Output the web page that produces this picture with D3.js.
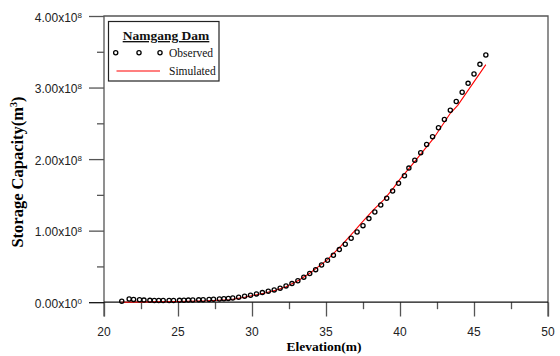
<!DOCTYPE html>
<html>
<head>
<meta charset="utf-8">
<script src="https://cdn.jsdelivr.net/npm/d3@7"></script>
<style>
  body { margin: 0; background: #fff; }
  svg { display: block; }
</style>
</head>
<body>
<svg id="chart" width="560" height="356"></svg>
<script>
// storage capacity in units of 1e8 m3
const elevObs = [21.2, 21.7, 22.0, 22.4, 22.7, 23.1, 23.4, 23.7, 24.0, 24.4, 24.7, 25.1, 25.4, 25.7,
  26.0, 26.4, 26.7, 27.1, 27.4, 27.8, 28.1, 28.4, 28.7, 29.1, 29.5, 29.9, 30.3, 30.7, 31.1, 31.5,
  31.9, 32.3, 32.7, 33.1, 33.5, 33.9, 34.3, 34.7, 35.1, 35.5, 35.9, 36.3, 36.7, 37.1, 37.5, 37.9,
  38.3, 38.7, 39.1, 39.5, 39.9, 40.3, 40.6, 41.0, 41.4, 41.8, 42.2, 42.6, 43.0, 43.4, 43.8, 44.2,
  44.6, 45.0, 45.4, 45.8];
const capObs = [0.0, 0.03, 0.025, 0.02, 0.015, 0.012, 0.01, 0.01, 0.01, 0.01, 0.01, 0.012, 0.013, 0.015,
  0.017, 0.019, 0.021, 0.024, 0.027, 0.031, 0.035, 0.039, 0.044, 0.056, 0.07, 0.084, 0.102, 0.12, 0.14, 0.158,
  0.182, 0.214, 0.246, 0.285, 0.336, 0.386, 0.441, 0.505, 0.573, 0.642, 0.721, 0.796, 0.88, 0.968, 1.056, 1.154,
  1.247, 1.345, 1.439, 1.54, 1.648, 1.754, 1.86, 1.97, 2.075, 2.19, 2.30, 2.425, 2.54, 2.668, 2.79, 2.92,
  3.045, 3.175, 3.31, 3.44];

const elevSim = [21.2, 23.0, 25.0, 27.0, 28.5, 29.5, 30.8, 31.6, 32.3, 33.1, 33.9, 34.6, 35.1, 36.0,
  36.9, 37.4, 38.2, 38.9, 39.5, 40.0, 40.7, 41.4, 42.25, 43.4, 43.9, 45.8];
const capSim = [0.0, 0.004, 0.01, 0.02, 0.035, 0.07, 0.126, 0.168, 0.215, 0.3, 0.405, 0.515, 0.595, 0.785,
  0.99, 1.11, 1.29, 1.43, 1.58, 1.72, 1.89, 2.07, 2.285, 2.64, 2.75, 3.32];

const xTicks = [20, 25, 30, 35, 40, 45, 50];
const xMinor = [22.5, 27.5, 32.5, 37.5, 42.5, 47.5];
const yTicks = [0, 1, 2, 3, 4];
const yMinor = [0.5, 1.5, 2.5, 3.5];
const yTickText = ["0.00x10", "1.00x10", "2.00x10", "3.00x10", "4.00x10"];
const yTickExp = ["0", "8", "8", "8", "8"];

const svg = d3.select("#chart");
const plotL = 104, plotR = 548, plotT = 16, plotB = 316.5;

const x = d3.scaleLinear().domain([20, 50]).range([plotL, plotR]);
const y = d3.scaleLinear().domain([-0.2, 4]).range([plotB, plotT]);
const y0 = y(0);

const axisColor = "#555";

// frame: left, right, top
svg.append("path")
  .attr("d", `M${plotL},${plotB}V${plotT}H${plotR}V${plotB}`)
  .attr("fill", "none").attr("stroke", axisColor).attr("stroke-width", 1.3);

// x axis at zero
const gx = svg.append("g").attr("transform", `translate(0,${y0})`)
  .call(d3.axisBottom(x).tickValues(xTicks).tickSize(plotB - y0).tickFormat(""));
gx.select(".domain").remove();
gx.selectAll("line").attr("stroke", axisColor).attr("stroke-width", 1.3);

const gxm = svg.append("g").attr("transform", `translate(0,${y0})`)
  .call(d3.axisBottom(x).tickValues(xMinor).tickSize(7).tickFormat(""));
gxm.select(".domain").remove();
gxm.selectAll("line").attr("stroke", axisColor).attr("stroke-width", 1.3);

svg.append("line")
  .attr("x1", plotL).attr("x2", plotR).attr("y1", y0).attr("y2", y0)
  .attr("stroke", "#111").attr("stroke-width", 1.3);

svg.append("g").selectAll("text").data(xTicks).join("text")
  .attr("x", d => x(d)).attr("y", 335.5)
  .attr("text-anchor", "middle")
  .attr("font-family", "Liberation Sans, Arial, sans-serif").attr("font-size", 12)
  .attr("fill", "#222")
  .text(d => d);

// y axis
const gy = svg.append("g").attr("transform", `translate(${plotL},0)`)
  .call(d3.axisLeft(y).tickValues(yTicks).tickSize(15).tickFormat(""));
gy.select(".domain").remove();
gy.selectAll("line").attr("stroke", d => d === 0 ? "#111" : axisColor).attr("stroke-width", 1.3);

const gym = svg.append("g").attr("transform", `translate(${plotL},0)`)
  .call(d3.axisLeft(y).tickValues(yMinor).tickSize(7).tickFormat(""));
gym.select(".domain").remove();
gym.selectAll("line").attr("stroke", axisColor).attr("stroke-width", 1.3);

const yl = svg.append("g").selectAll("text").data(yTicks).join("text")
  .attr("x", 82).attr("y", d => y(d) + 5.5)
  .attr("text-anchor", "end")
  .attr("font-family", "Liberation Sans, Arial, sans-serif").attr("font-size", 12)
  .attr("fill", "#222");
yl.append("tspan").text((d, i) => yTickText[i]);
yl.append("tspan").attr("font-size", 8).attr("dy", -4).text((d, i) => yTickExp[i]);

// axis titles
svg.append("text")
  .attr("x", 324).attr("y", 350.5).attr("text-anchor", "middle")
  .attr("font-family", "Liberation Serif, Times New Roman, serif")
  .attr("font-weight", "bold").attr("font-size", 13.5).attr("fill", "#000")
  .text("Elevation(m)");

const yt = svg.append("text")
  .attr("transform", "translate(23,172) rotate(-90)")
  .attr("text-anchor", "middle")
  .attr("font-family", "Liberation Serif, Times New Roman, serif")
  .attr("font-weight", "bold").attr("font-size", 16.5).attr("fill", "#000");
yt.append("tspan").text("Storage Capacity(m");
yt.append("tspan").attr("font-size", 10).attr("dy", -6).text("3");
yt.append("tspan").attr("dy", 6).text(")");

// simulated line
const simData = elevSim.map((e, i) => [e, capSim[i]]);
svg.append("path")
  .datum(simData)
  .attr("fill", "none").attr("stroke", "#ff0000").attr("stroke-width", 1.1)
  .attr("d", d3.line().x(d => x(d[0])).y(d => y(d[1])));

// observed points
const obsData = elevObs.map((e, i) => [e, capObs[i]]);
svg.append("g").selectAll("circle").data(obsData).join("circle")
  .attr("cx", d => x(d[0])).attr("cy", d => y(d[1]) - 1)
  .attr("r", 2.1)
  .attr("fill", "none").attr("stroke", "#000").attr("stroke-width", 1.3);

// legend
const lg = svg.append("g");
lg.append("rect")
  .attr("x", 108.5).attr("y", 21.5).attr("width", 110.5).attr("height", 59.5)
  .attr("fill", "#fff").attr("stroke", "#222").attr("stroke-width", 1.2);
lg.append("text")
  .attr("x", 166).attr("y", 40).attr("text-anchor", "middle")
  .attr("font-family", "Liberation Serif, Times New Roman, serif")
  .attr("font-weight", "bold").attr("font-size", 13.5)
  .attr("text-decoration", "underline").attr("fill", "#111")
  .text("Namgang Dam");
lg.selectAll("circle").data([115.7, 139, 160]).join("circle")
  .attr("cx", d => d).attr("cy", 52.7).attr("r", 2.1)
  .attr("fill", "none").attr("stroke", "#000").attr("stroke-width", 1.3);
lg.append("text")
  .attr("x", 169).attr("y", 56.5)
  .attr("font-family", "Liberation Serif, Times New Roman, serif")
  .attr("font-size", 11.5).attr("fill", "#111")
  .text("Observed");
lg.append("line")
  .attr("x1", 116.5).attr("x2", 160).attr("y1", 71).attr("y2", 71)
  .attr("stroke", "#ff0000").attr("stroke-width", 1.1);
lg.append("text")
  .attr("x", 169).attr("y", 75)
  .attr("font-family", "Liberation Serif, Times New Roman, serif")
  .attr("font-size", 11.5).attr("fill", "#111")
  .text("Simulated");
</script>
</body>
</html>
